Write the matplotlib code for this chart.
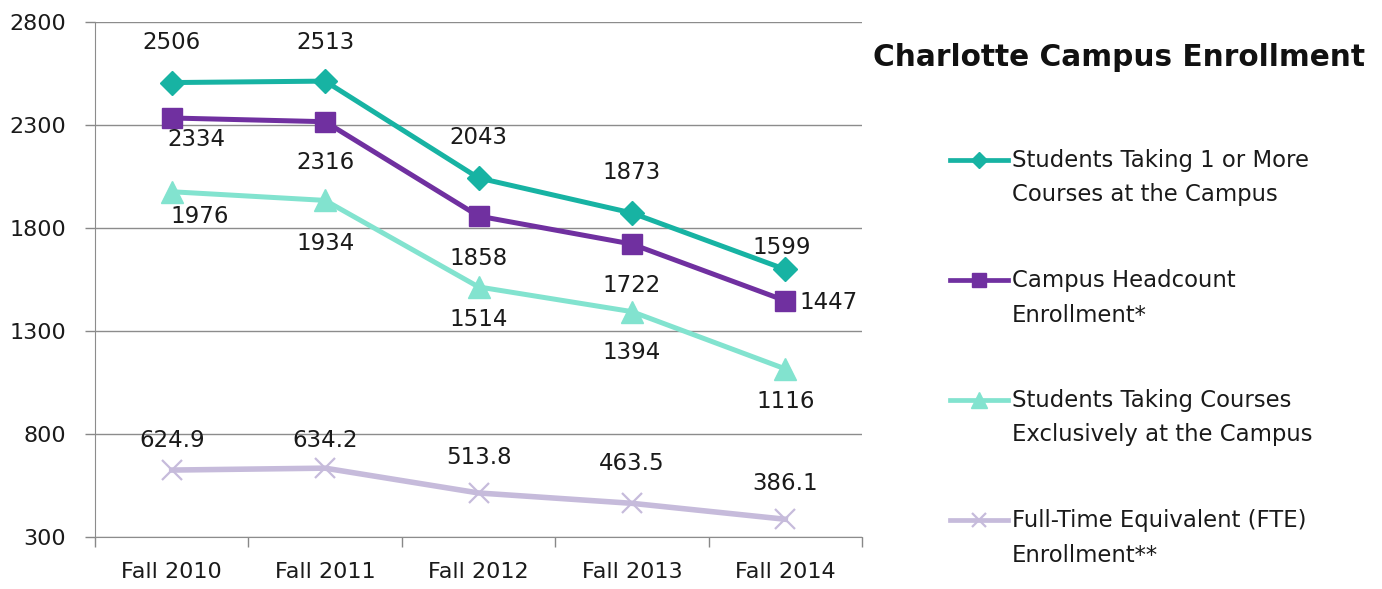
import matplotlib
matplotlib.use("Agg")
import matplotlib.pyplot as plt
from matplotlib.lines import Line2D

# data
terms = ["Fall 2010", "Fall 2011", "Fall 2012", "Fall 2013", "Fall 2014"]
one_or_more = [2506, 2513, 2043, 1873, 1599]
headcount = [2334, 2316, 1858, 1722, 1447]
exclusive = [1976, 1934, 1514, 1394, 1116]
fte = [624.9, 634.2, 513.8, 463.5, 386.1]
yticks = [300, 800, 1300, 1800, 2300, 2800]

legend_lines = [
    ("Students Taking 1 or More", "Courses at the Campus"),
    ("Campus Headcount", "Enrollment*"),
    ("Students Taking Courses", "Exclusively at the Campus"),
    ("Full-Time Equivalent (FTE)", "Enrollment**"),
]

TEAL = "#17b3a3"
PURPLE = "#7030a0"
AQUA = "#82e3cf"
LAV = "#c6bbdb"

series = [
    dict(y=one_or_more, color=TEAL, marker="D", ms=12, mew=1, lw=3.6, fmt="{:.0f}",
         off=[(0, 40), (0, 39), (0, 40), (0, 40), (-4, 22)]),
    dict(y=headcount, color=PURPLE, marker="s", ms=14, mew=1, lw=3.6, fmt="{:.0f}",
         off=[(25, -22), (0, -41), (0, -42), (0, -41), (43, -2)]),
    dict(y=exclusive, color=AQUA, marker="^", ms=16, mew=1, lw=3.6, fmt="{:.0f}",
         off=[(28, -25), (0, -43), (0, -33), (0, -41), (0, -33)]),
    dict(y=fte, color=LAV, marker="x", ms=15, mew=1.6, lw=4, fmt="{:.1f}",
         off=[(0, 30), (0, 28), (0, 35), (0, 40), (0, 36)]),
]

W, H = 1382, 589
fig = plt.figure(figsize=(W / 100, H / 100), dpi=100)
ax = fig.add_axes([95 / W, 52 / H, (862 - 95) / W, (537 - 22) / H])

x = list(range(len(terms)))
for s in series:
    ax.plot(x, s["y"], color=s["color"], lw=s["lw"], marker=s["marker"],
            ms=s["ms"], mew=s["mew"], mec=s["color"], mfc=s["color"],
            solid_joinstyle="round", zorder=3)
    for xi, yi, (dx, dy) in zip(x, s["y"], s["off"]):
        ax.annotate(s["fmt"].format(yi), (xi, yi), xytext=(dx * 0.72, dy * 0.72),
                    textcoords="offset points", ha="center", va="center",
                    fontsize=16.5, color="#1a1a1a", zorder=4)

ax.set_xlim(-0.5, len(terms) - 0.5)
ax.set_ylim(yticks[0], yticks[-1])
ax.set_yticks(yticks)
ax.set_yticklabels([str(v) for v in yticks])
ax.set_xticks(x)
ax.set_xticklabels(terms)
ax.set_xticks([i - 0.5 for i in range(len(terms) + 1)], minor=True)
ax.tick_params(axis="x", which="major", length=0, pad=18, labelsize=16, labelcolor="#1a1a1a")
ax.tick_params(axis="x", which="minor", length=7, width=1, color="#888888")
ax.tick_params(axis="y", length=7, width=1, color="#888888", pad=14, labelsize=16,
               labelcolor="#1a1a1a")
ax.grid(axis="y", color="#8c8c8c", lw=1)
ax.set_axisbelow(True)
for side in ("top", "right"):
    ax.spines[side].set_visible(False)
ax.spines["left"].set_color("#8c8c8c")
ax.spines["bottom"].set_color("#8c8c8c")

fig.text(873 / W, 1 - 58 / H, "Charlotte Campus Enrollment", fontsize=21.3,
         fontweight="bold", ha="left", va="center", color="#111111")

# legend drawn by hand: marker on first text line
for i, (s, (l1, l2)) in enumerate(zip(series, legend_lines)):
    yc = 160 + 120 * i
    fy = 1 - yc / H
    fig.add_artist(Line2D([950 / W, 1008 / W], [fy, fy], color=s["color"], lw=3.4,
                          transform=fig.transFigure))
    fig.add_artist(Line2D([979 / W], [fy], color=s["color"], marker=s["marker"],
                          ms=s["ms"] * 0.7, mew=s["mew"], mfc=s["color"],
                          mec=s["color"], transform=fig.transFigure))
    fig.text(1012 / W, fy, l1, fontsize=16.4, ha="left", va="center", color="#1a1a1a")
    fig.text(1012 / W, 1 - (yc + 35) / H, l2, fontsize=16.4, ha="left", va="center",
             color="#1a1a1a")

fig.savefig("out.png", dpi=100)
